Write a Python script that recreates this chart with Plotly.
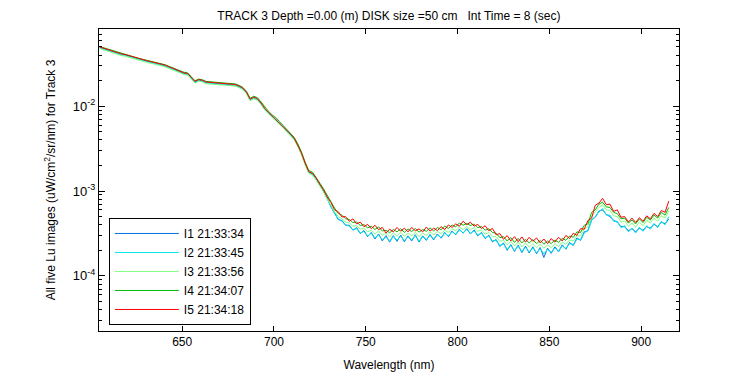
import plotly.graph_objects as go

# Wavelength grid (nm), 2 nm step
wavelength = list(range(605, 916, 2))

# Values in units of 1e-6 uW/cm^2/sr/nm
# 605..729 nm (smooth part)
i1_a = [49300,47700,46100,44500,43000, 41700,40700,40000,38800,37600, 36300,35400,34600,33800,33000,
        32400,31500,30700,29800,28600, 27400,26200,25000,24300,23900, 21200,19300,20300,19900,19000,
        18800,18600,18400,18300,18200, 18100,17900,17700,17000,16200, 14500,11900,12600,12100,10700,
        9250,8370,7580,7060,6300, 5710,5120,4630,4140,3450, 2750,2090,1660,1590,1390, 1170,1000,820]
i2_a = [48800,47200,45600,44100,42500, 41200,40300,39600,38400,37200, 36000,35000,34200,33400,32700,
        32100,31200,30400,29500,28300, 27100,25900,24800,24100,23700, 21000,19100,20100,19700,18800,
        18600,18400,18200,18100,18000, 17900,17700,17500,16900,16000, 14300,11800,12500,12000,10600,
        9150,8280,7500,6990,6240, 5650,5070,4580,4090,3410, 2720,2060,1640,1570,1370, 1160,990,810]
i3_a = [47800,46200,44700,43200,41700, 40400,39400,38800,37600,36500, 35200,34300,33500,32700,32000,
        31400,30600,29800,28900,27700, 26500,25400,24300,23600,23200, 20600,18700,19700,19300,18400,
        18200,18000,17900,17800,17700, 17600,17400,17200,16500,15700, 14000,11600,12200,11700,10400,
        9000,8100,7350,6850,6100, 5550,4950,4500,4000,3350, 2670,2020,1610,1540,1350, 1140,980,800]
i4_a = [50500,49000,47300,45800,44200, 42900,41800,41100,39900,38700, 37400,36300,35500,34700,34000,
        33300,32400,31600,30700,29400, 28200,27000,25800,25100,24700, 21900,19900,20900,20500,19600,
        19400,19200,19000,18900,18800, 18700,18500,18300,17600,16700, 15000,12400,13100,12600,11200,
        9700,8700,7900,7350,6600, 5950,5350,4850,4300,3600, 2880,2180,1740,1670,1460, 1240,1060,880]
i5_a = [50000,48400,46800,45200,43600, 42300,41300,40600,39400,38200, 36900,35900,35100,34300,33500,
        32900,32000,31200,30300,29000, 27800,26600,25400,24700,24300, 21500,19600,20600,20200,19300,
        19100,18900,18700,18600,18500, 18400,18200,18000,17300,16400, 14700,12100,12800,12300,10900,
        9400,8500,7700,7170,6400, 5800,5200,4700,4200,3500, 2800,2120,1690,1620,1420, 1200,1030,850]

# 731..915 nm (noisy part)
i1_b = [650,555,460,450,395,395,345,370,315,342,
        290,325,272,312,258,298,250,298,255,302,
        252,296,258,305,250,296,262,308,265,312,
        278,325,290,338,305,355,318,360,312,348,
        296,325,275,302,252,268,222,244,200,234,
        194,230,188,224,186,220,182,216,165,212,
        184,220,192,232,206,248,228,280,262,330,
        340,460,490,580,600,530,500,450,430,380,
        380,340,360,330,365,345,380,365,405,380,
        430,410,470]
i2_b = [660,540,470,440,400,385,350,360,320,335,
        295,318,280,305,265,290,255,292,262,296,
        258,290,265,298,255,290,268,300,270,305,
        282,318,295,330,310,348,322,352,318,340,
        300,318,280,295,258,262,228,238,205,228,
        198,225,192,218,190,214,186,210,182,206,
        188,214,195,225,210,240,232,272,268,320,
        345,450,500,570,620,520,520,440,440,370,
        390,330,365,320,375,335,390,355,415,370,
        440,400,500]
i3_b = [690,570,500,470,430,420,385,390,355,365,
        330,345,310,340,300,320,290,320,295,325,
        292,318,298,325,290,318,300,330,302,335,
        315,345,325,360,340,375,352,380,350,370,
        335,348,310,325,290,290,255,262,232,255,
        225,250,220,245,218,240,215,236,212,232,
        215,240,222,250,236,265,258,298,295,355,
        380,500,560,640,690,600,590,510,500,430,
        445,385,420,375,430,390,450,420,480,440,
        510,480,580]
i4_b = [740,630,545,520,470,462,425,432,392,402,
        368,385,352,378,338,345,322,352,330,360,
        325,358,332,362,328,352,335,368,338,372,
        350,385,362,398,378,420,395,415,392,408,
        370,382,345,360,325,318,282,290,258,282,
        248,276,245,270,244,268,240,262,236,258,
        240,265,248,278,262,295,285,330,325,395,
        410,560,600,700,740,650,640,560,540,470,
        480,420,455,410,470,425,490,455,520,480,
        560,520,640]
i5_b = [735,600,570,495,500,440,470,410,430,380,
        405,360,395,350,372,320,355,330,372,336,
        365,330,372,340,358,330,376,338,365,342,
        380,352,398,372,410,385,440,400,430,385,
        405,362,390,340,362,305,315,270,298,258,
        290,252,288,250,285,255,280,245,272,240,
        275,250,285,258,300,275,318,300,360,355,
        450,480,680,720,820,690,700,575,600,490,
        500,430,480,425,485,440,510,470,545,500,
        590,560,760]

series_names = ["I1 21:33:34", "I2 21:33:45", "I3 21:33:56", "I4 21:34:07", "I5 21:34:18"]
series_values = [i1_a + i1_b, i2_a + i2_b, i3_a + i3_b, i4_a + i4_b, i5_a + i5_b]
colors = ["rgb(0,113,227)", "rgb(0,228,235)", "rgb(128,255,128)", "rgb(0,190,0)", "rgb(255,0,0)"]

for v in series_values:
    assert len(v) == len(wavelength), (len(v), len(wavelength))

fig = go.Figure()
for name, vals, col in zip(series_names, series_values, colors):
    fig.add_trace(go.Scatter(
        x=wavelength, y=[v * 1e-6 for v in vals], mode="lines", name=name,
        line=dict(color=col, width=1),
    ))

font_family = "Liberation Sans, Arial, Helvetica, sans-serif"
major_y = [1e-2, 1e-3, 1e-4]
major_y_text = ["10<sup>-2</sup>", "10<sup>-3</sup>", "10<sup>-4</sup>"]
minor_y = [k * 10.0 ** e for e in range(-5, -1) for k in range(2, 10)]

# page body adds an 8 px offset; margins compensate
fig.update_layout(
    width=750, height=375,
    margin=dict(l=90.5, r=78.7, t=20.5, b=52),
    paper_bgcolor="white", plot_bgcolor="white",
    font=dict(family=font_family, size=12, color="black"),
    title=dict(
        text="TRACK 3 Depth =0.00 (m) DISK size =50 cm &nbsp; Int Time = 8 (sec)",
        x=(90.5 + 671.3) / 2 / 750, xanchor="center", y=1 - 4 / 375, yanchor="top",
        font=dict(size=12, family=font_family, color="black"),
    ),
    showlegend=True,
    legend=dict(
        x=0.017, y=0.02, xanchor="left", yanchor="bottom",
        bgcolor="white", bordercolor="black", borderwidth=1,
        font=dict(size=12, family=font_family, color="black"),
        itemwidth=64, tracegroupgap=0,
    ),
)
fig.update_xaxes(
    range=[604.7, 920.6], showgrid=False, zeroline=False,
    showline=True, linecolor="black", linewidth=1, mirror="ticks",
    ticks="inside", ticklen=5, tickcolor="black",
    tickvals=[650, 700, 750, 800, 850, 900],
    title=dict(text="Wavelength (nm)", standoff=12, font=dict(size=12)),
)
fig.update_yaxes(
    type="log", range=[-4.65, -1.09], showgrid=False, zeroline=False,
    showline=True, linecolor="black", linewidth=1, mirror="ticks",
    ticks="inside", ticklen=6, tickcolor="black",
    tickvals=major_y, ticktext=major_y_text, tickfont=dict(size=13),
    minor=dict(tickvals=minor_y, ticks="inside", ticklen=3, tickcolor="black"),
    title=dict(text="All five Lu images (uW/cm<sup>2</sup>/sr/nm) for Track 3", standoff=14, font=dict(size=12)),
)

fig.write_html("out.html")
